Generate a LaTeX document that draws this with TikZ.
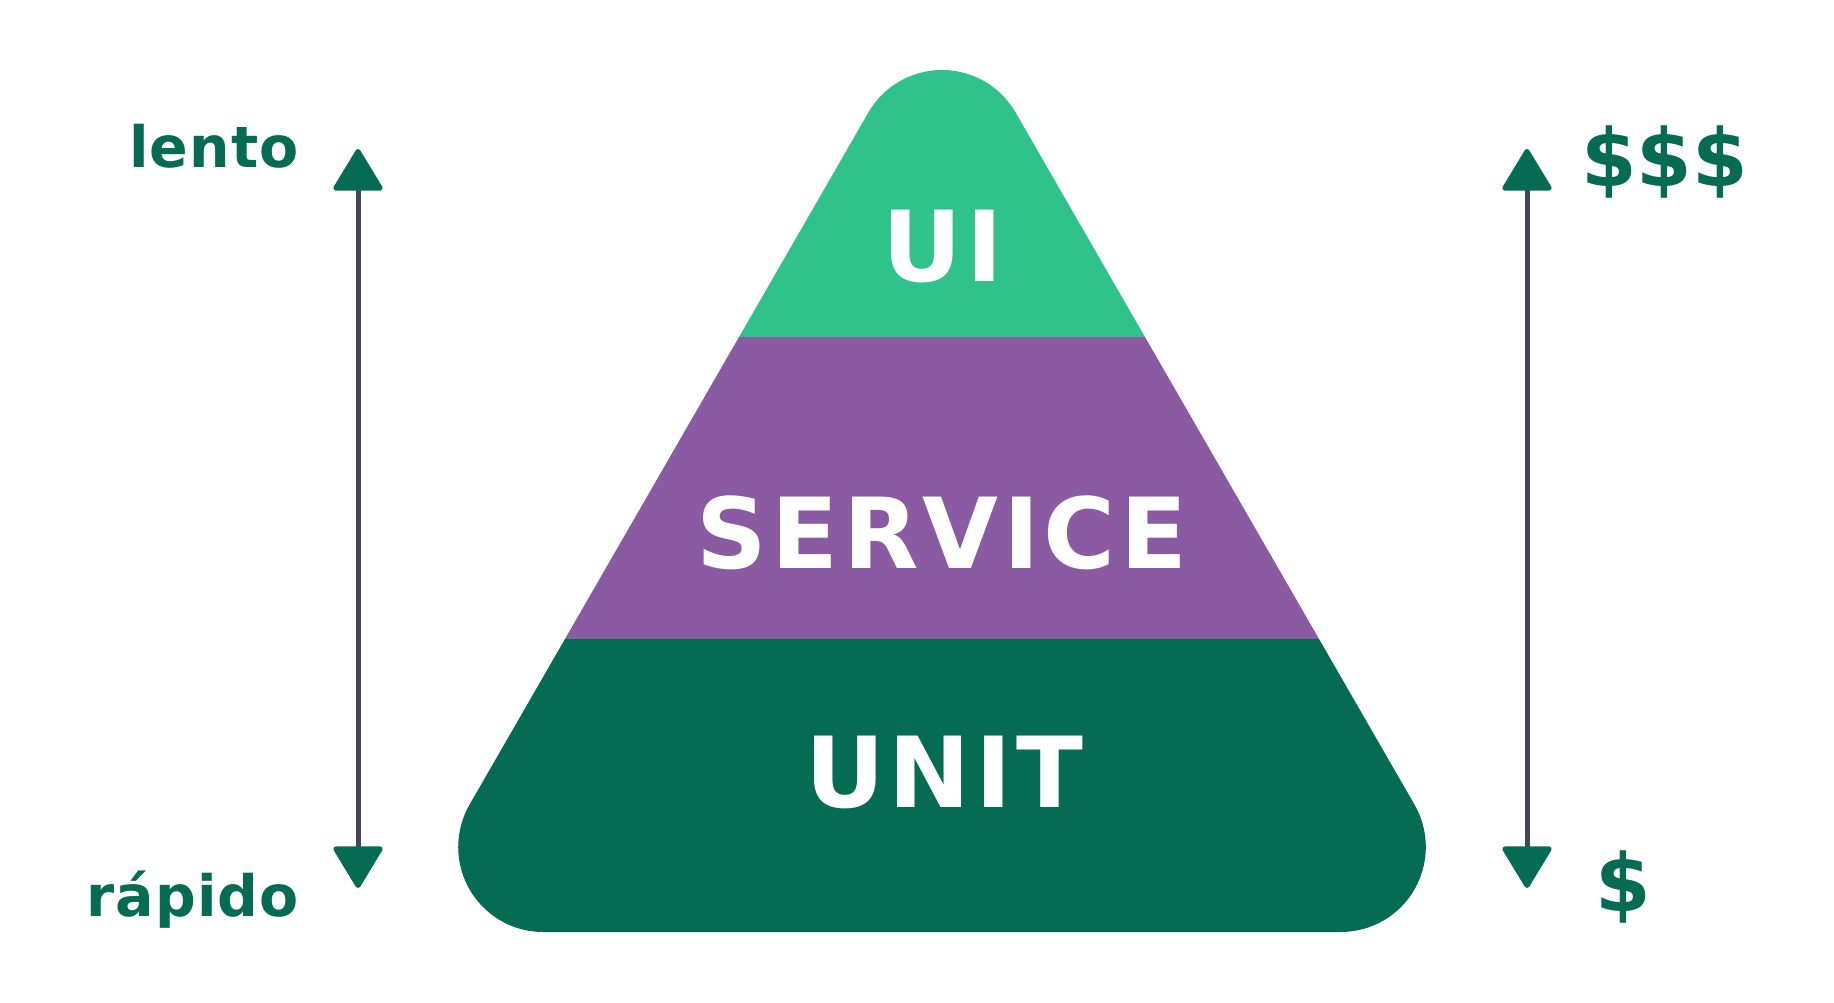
\documentclass[tikz,border=0pt]{standalone}
\usepackage{fontspec}
\setmainfont{DejaVu Sans}
\newfontfamily\layerfont[LetterSpace=4.4]{DejaVu Sans}
\newfontfamily\sidefont[LetterSpace=2]{DejaVu Sans}
\usetikzlibrary{arrows.meta}
\definecolor{uig}{HTML}{2FC28B}
\definecolor{svc}{HTML}{8A5AA2}
\definecolor{unitg}{HTML}{056C53}
\definecolor{shaft}{HTML}{454854}
\begin{document}
\begin{tikzpicture}[x=1pt,y=-1pt,
  layer/.style={font=\layerfont\bfseries\fontsize{98}{100}\selectfont, text=white, anchor=base, inner sep=0pt},
  side/.style={font=\sidefont\bfseries\fontsize{57}{60}\selectfont, text=unitg, inner sep=0pt},
  cost/.style={font=\bfseries\fontsize{80}{84}\selectfont, text=unitg, inner sep=0pt, anchor=base west},
  arr/.style={line width=5pt, draw=shaft,
    {Triangle[length=44pt,width=52pt,round,color=unitg,fill=unitg]}-{Triangle[length=44pt,width=52pt,round,color=unitg,fill=unitg]}}]
\useasboundingbox (0,0) rectangle (1834,1003);
\begin{scope}
  \clip (868.39,112.5) arc[start angle=210,end angle=330,radius=85]
     -- (1414.41,804.5) arc[start angle=-30,end angle=90,radius=85]
     -- (543.22,932) arc[start angle=90,end angle=210,radius=85]
     -- cycle;
  \fill[uig] (0,-20) rectangle (1834,337);
  \fill[svc] (0,337) rectangle (1834,639);
  \fill[unitg] (0,639) rectangle (1834,1003);
\end{scope}
\node[layer] (ui) at (943,281) {UI};
\node[layer] (service) at (942,568) {SERVICE};
\node[layer] (unit) at (944,807) {UNIT};
\node[side, anchor=base east] (lento) at (299,168) {lento};
\node[side, anchor=base east] (rapido) at (299,916) {rápido};
\node[cost] (many) at (1581,187) {\$\$\$};
\node[cost] (one) at (1595,911) {\$};
\coordinate (lt) at (358,149);
\coordinate (lb) at (358,888);
\coordinate (rt) at (1527,149);
\coordinate (rb) at (1527,888);
\draw[arr] (lb) -- (lt);
\draw[arr] (rb) -- (rt);
\end{tikzpicture}
\end{document}
